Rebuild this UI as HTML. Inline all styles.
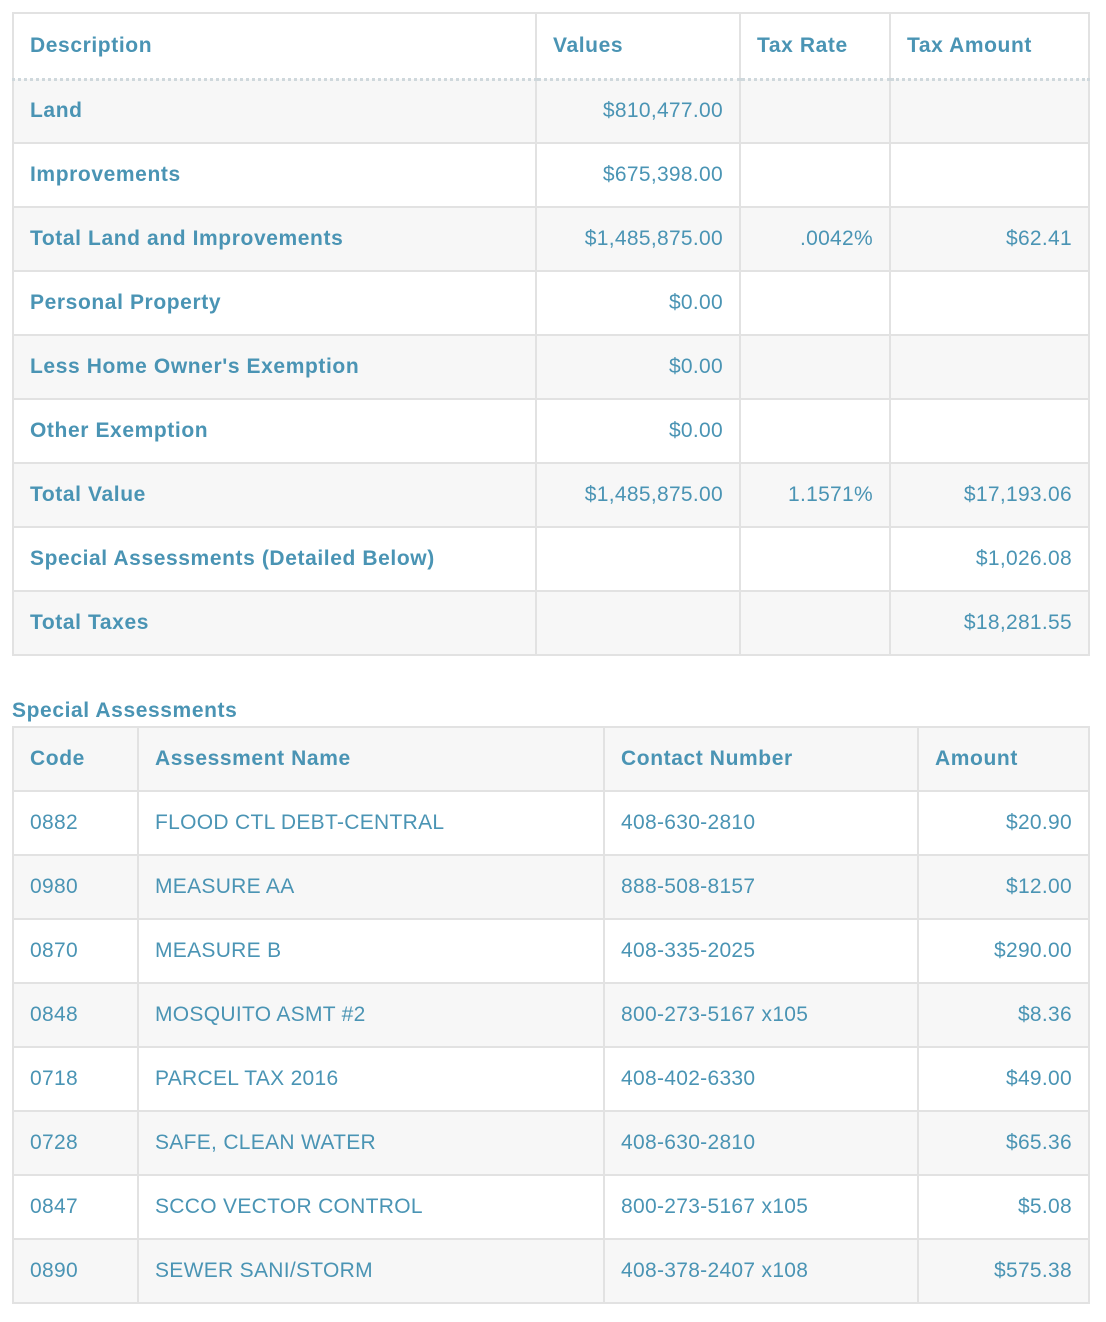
<!DOCTYPE html>
<html><head><meta charset="utf-8"><style>
*{margin:0;padding:0;box-sizing:border-box}
body{width:1106px;height:1322px;background:#fff;font-family:"Liberation Sans",sans-serif;color:#4a94b4;position:relative;overflow:hidden}
table{position:absolute;left:12px;border-collapse:collapse;table-layout:fixed;width:1076px}
td,th{border:2px solid #e2e2e2;height:64px;padding:0 16px;font-size:21px;letter-spacing:0.3px;vertical-align:middle;white-space:nowrap}
th{text-align:left;font-weight:bold;letter-spacing:0.6px}
td.r{text-align:right}
td.b{font-weight:bold;letter-spacing:0.6px}
#t1{top:12px}
#t1 thead th{border-bottom:3px dotted #cfd8dc;height:66px}
#t1 tbody tr:nth-child(odd){background:#f7f7f7}
#t2{top:726px}
#t2 thead tr{background:#f7f7f7}
#t2 tbody tr:nth-child(even){background:#f7f7f7}
#cap{position:absolute;left:12px;top:699px;font-size:21px;font-weight:bold;letter-spacing:0.6px}
</style></head><body>
<table id="t1">
<colgroup><col style="width:523px"><col style="width:204px"><col style="width:150px"><col style="width:199px"></colgroup>
<thead><tr><th>Description</th><th>Values</th><th>Tax Rate</th><th>Tax Amount</th></tr></thead>
<tbody>
<tr><td class="b">Land</td><td class="r">$810,477.00</td><td></td><td></td></tr>
<tr><td class="b">Improvements</td><td class="r">$675,398.00</td><td></td><td></td></tr>
<tr><td class="b">Total Land and Improvements</td><td class="r">$1,485,875.00</td><td class="r">.0042%</td><td class="r">$62.41</td></tr>
<tr><td class="b">Personal Property</td><td class="r">$0.00</td><td></td><td></td></tr>
<tr><td class="b">Less Home Owner's Exemption</td><td class="r">$0.00</td><td></td><td></td></tr>
<tr><td class="b">Other Exemption</td><td class="r">$0.00</td><td></td><td></td></tr>
<tr><td class="b">Total Value</td><td class="r">$1,485,875.00</td><td class="r">1.1571%</td><td class="r">$17,193.06</td></tr>
<tr><td class="b">Special Assessments (Detailed Below)</td><td></td><td></td><td class="r">$1,026.08</td></tr>
<tr><td class="b">Total Taxes</td><td></td><td></td><td class="r">$18,281.55</td></tr>
</tbody></table>
<div id="cap">Special Assessments</div>
<table id="t2">
<colgroup><col style="width:125px"><col style="width:466px"><col style="width:314px"><col style="width:171px"></colgroup>
<thead><tr><th>Code</th><th>Assessment Name</th><th>Contact Number</th><th>Amount</th></tr></thead>
<tbody>
<tr><td>0882</td><td>FLOOD CTL DEBT-CENTRAL</td><td>408-630-2810</td><td class="r">$20.90</td></tr>
<tr><td>0980</td><td>MEASURE AA</td><td>888-508-8157</td><td class="r">$12.00</td></tr>
<tr><td>0870</td><td>MEASURE B</td><td>408-335-2025</td><td class="r">$290.00</td></tr>
<tr><td>0848</td><td>MOSQUITO ASMT #2</td><td>800-273-5167 x105</td><td class="r">$8.36</td></tr>
<tr><td>0718</td><td>PARCEL TAX 2016</td><td>408-402-6330</td><td class="r">$49.00</td></tr>
<tr><td>0728</td><td>SAFE, CLEAN WATER</td><td>408-630-2810</td><td class="r">$65.36</td></tr>
<tr><td>0847</td><td>SCCO VECTOR CONTROL</td><td>800-273-5167 x105</td><td class="r">$5.08</td></tr>
<tr><td>0890</td><td>SEWER SANI/STORM</td><td>408-378-2407 x108</td><td class="r">$575.38</td></tr>
</tbody></table>
</body></html>
